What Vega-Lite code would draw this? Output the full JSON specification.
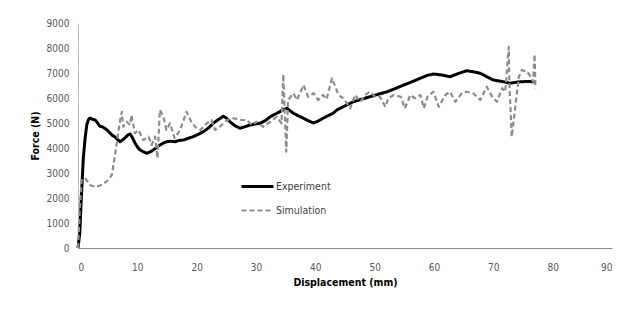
{
  "$schema": "https://vega.github.io/schema/vega-lite/v6.json",
  "width": 534,
  "height": 225,
  "autosize": "none",
  "padding": {"left": 78, "top": 23, "right": 5, "bottom": 63},
  "background": "white",
  "config": {
    "view": {"stroke": null},
    "font": "'DejaVu Sans Condensed', 'Liberation Sans', sans-serif"
  },
  "data": {
    "values": [
      {"s":"Experiment","d":0,"f":0},{"s":"Experiment","d":0.3,"f":600},{"s":"Experiment","d":0.6,"f":2200},{"s":"Experiment","d":0.9,"f":3600},{"s":"Experiment","d":1.2,"f":4400},{"s":"Experiment","d":1.5,"f":4950},{"s":"Experiment","d":1.8,"f":5150},{"s":"Experiment","d":2.0,"f":5200},{"s":"Experiment","d":2.4,"f":5150},{"s":"Experiment","d":2.9,"f":5120},{"s":"Experiment","d":3.3,"f":5000},{"s":"Experiment","d":3.7,"f":4870},{"s":"Experiment","d":4.1,"f":4850},{"s":"Experiment","d":4.5,"f":4790},{"s":"Experiment","d":5.0,"f":4700},{"s":"Experiment","d":5.4,"f":4600},{"s":"Experiment","d":5.8,"f":4500},{"s":"Experiment","d":6.2,"f":4450},{"s":"Experiment","d":6.7,"f":4330},{"s":"Experiment","d":7.1,"f":4250},{"s":"Experiment","d":7.5,"f":4320},{"s":"Experiment","d":7.9,"f":4400},{"s":"Experiment","d":8.4,"f":4520},{"s":"Experiment","d":8.8,"f":4560},{"s":"Experiment","d":9.2,"f":4400},{"s":"Experiment","d":9.6,"f":4200},{"s":"Experiment","d":10.0,"f":4050},{"s":"Experiment","d":10.4,"f":3930},{"s":"Experiment","d":11.0,"f":3850},{"s":"Experiment","d":11.6,"f":3790},{"s":"Experiment","d":12.2,"f":3850},{"s":"Experiment","d":12.7,"f":3920},{"s":"Experiment","d":13.3,"f":4030},{"s":"Experiment","d":13.8,"f":4120},{"s":"Experiment","d":14.4,"f":4200},{"s":"Experiment","d":14.9,"f":4250},{"s":"Experiment","d":15.6,"f":4270},{"s":"Experiment","d":16.3,"f":4250},{"s":"Experiment","d":17.0,"f":4300},{"s":"Experiment","d":17.8,"f":4320},{"s":"Experiment","d":18.6,"f":4390},{"s":"Experiment","d":19.4,"f":4450},{"s":"Experiment","d":20.3,"f":4550},{"s":"Experiment","d":21.1,"f":4650},{"s":"Experiment","d":22.0,"f":4800},{"s":"Experiment","d":22.8,"f":4990},{"s":"Experiment","d":23.6,"f":5130},{"s":"Experiment","d":24.5,"f":5270},{"s":"Experiment","d":25.0,"f":5200},{"s":"Experiment","d":25.6,"f":5050},{"s":"Experiment","d":26.4,"f":4900},{"s":"Experiment","d":27.3,"f":4790},{"s":"Experiment","d":28.1,"f":4850},{"s":"Experiment","d":29.0,"f":4920},{"s":"Experiment","d":29.9,"f":4960},{"s":"Experiment","d":30.7,"f":4990},{"s":"Experiment","d":31.6,"f":5100},{"s":"Experiment","d":32.4,"f":5250},{"s":"Experiment","d":33.2,"f":5350},{"s":"Experiment","d":34.0,"f":5450},{"s":"Experiment","d":34.6,"f":5530},{"s":"Experiment","d":35.2,"f":5590},{"s":"Experiment","d":35.8,"f":5480},{"s":"Experiment","d":36.3,"f":5390},{"s":"Experiment","d":37.2,"f":5280},{"s":"Experiment","d":38.0,"f":5190},{"s":"Experiment","d":38.9,"f":5080},{"s":"Experiment","d":39.7,"f":5000},{"s":"Experiment","d":40.5,"f":5080},{"s":"Experiment","d":41.3,"f":5190},{"s":"Experiment","d":42.2,"f":5300},{"s":"Experiment","d":43.0,"f":5390},{"s":"Experiment","d":43.6,"f":5520},{"s":"Experiment","d":44.2,"f":5590},{"s":"Experiment","d":45.3,"f":5720},{"s":"Experiment","d":46.4,"f":5850},{"s":"Experiment","d":47.8,"f":5950},{"s":"Experiment","d":49.2,"f":6050},{"s":"Experiment","d":50.6,"f":6150},{"s":"Experiment","d":52.1,"f":6250},{"s":"Experiment","d":53.5,"f":6380},{"s":"Experiment","d":54.9,"f":6520},{"s":"Experiment","d":56.3,"f":6650},{"s":"Experiment","d":57.7,"f":6790},{"s":"Experiment","d":58.8,"f":6900},{"s":"Experiment","d":59.9,"f":6960},{"s":"Experiment","d":61.3,"f":6920},{"s":"Experiment","d":62.7,"f":6850},{"s":"Experiment","d":64.1,"f":6980},{"s":"Experiment","d":65.5,"f":7090},{"s":"Experiment","d":66.6,"f":7050},{"s":"Experiment","d":67.8,"f":6990},{"s":"Experiment","d":68.9,"f":6850},{"s":"Experiment","d":70.0,"f":6720},{"s":"Experiment","d":71.7,"f":6650},{"s":"Experiment","d":72.8,"f":6590},{"s":"Experiment","d":73.6,"f":6620},{"s":"Experiment","d":74.5,"f":6650},{"s":"Experiment","d":75.8,"f":6660},{"s":"Experiment","d":77.1,"f":6650},
      {"s":"Simulation","d":0,"f":0},{"s":"Simulation","d":0.3,"f":1500},{"s":"Simulation","d":0.6,"f":2700},{"s":"Simulation","d":1.2,"f":2800},{"s":"Simulation","d":2.0,"f":2520},{"s":"Simulation","d":2.9,"f":2450},{"s":"Simulation","d":4.0,"f":2520},{"s":"Simulation","d":5.1,"f":2720},{"s":"Simulation","d":5.7,"f":2920},{"s":"Simulation","d":6.2,"f":3650},{"s":"Simulation","d":6.6,"f":4320},{"s":"Simulation","d":7.1,"f":5120},{"s":"Simulation","d":7.4,"f":5450},{"s":"Simulation","d":7.6,"f":4850},{"s":"Simulation","d":8.2,"f":5050},{"s":"Simulation","d":8.8,"f":4920},{"s":"Simulation","d":9.0,"f":5320},{"s":"Simulation","d":9.6,"f":4590},{"s":"Simulation","d":10.2,"f":4720},{"s":"Simulation","d":11.0,"f":4320},{"s":"Simulation","d":11.9,"f":4450},{"s":"Simulation","d":12.4,"f":4120},{"s":"Simulation","d":13.0,"f":4450},{"s":"Simulation","d":13.4,"f":3590},{"s":"Simulation","d":13.8,"f":5520},{"s":"Simulation","d":14.4,"f":5250},{"s":"Simulation","d":14.9,"f":4720},{"s":"Simulation","d":15.5,"f":4990},{"s":"Simulation","d":16.3,"f":4390},{"s":"Simulation","d":17.2,"f":4720},{"s":"Simulation","d":18.3,"f":5450},{"s":"Simulation","d":19.2,"f":4990},{"s":"Simulation","d":20.0,"f":4790},{"s":"Simulation","d":20.6,"f":4720},{"s":"Simulation","d":21.7,"f":4990},{"s":"Simulation","d":22.5,"f":5120},{"s":"Simulation","d":23.1,"f":4720},{"s":"Simulation","d":23.9,"f":4850},{"s":"Simulation","d":25.1,"f":5120},{"s":"Simulation","d":26.2,"f":5190},{"s":"Simulation","d":27.6,"f":5120},{"s":"Simulation","d":28.4,"f":5120},{"s":"Simulation","d":29.3,"f":4920},{"s":"Simulation","d":30.1,"f":5050},{"s":"Simulation","d":31.2,"f":4850},{"s":"Simulation","d":32.4,"f":5050},{"s":"Simulation","d":33.5,"f":5250},{"s":"Simulation","d":34.3,"f":4990},{"s":"Simulation","d":34.6,"f":6950},{"s":"Simulation","d":35.1,"f":3850},{"s":"Simulation","d":35.4,"f":5920},{"s":"Simulation","d":36.3,"f":6190},{"s":"Simulation","d":36.9,"f":5920},{"s":"Simulation","d":38.0,"f":6520},{"s":"Simulation","d":38.8,"f":6050},{"s":"Simulation","d":39.7,"f":6190},{"s":"Simulation","d":40.5,"f":5920},{"s":"Simulation","d":41.3,"f":6120},{"s":"Simulation","d":41.9,"f":5950},{"s":"Simulation","d":42.8,"f":6790},{"s":"Simulation","d":43.9,"f":6120},{"s":"Simulation","d":44.7,"f":5990},{"s":"Simulation","d":45.9,"f":5590},{"s":"Simulation","d":46.7,"f":6120},{"s":"Simulation","d":47.6,"f":5850},{"s":"Simulation","d":48.4,"f":6120},{"s":"Simulation","d":49.2,"f":6250},{"s":"Simulation","d":50.1,"f":6050},{"s":"Simulation","d":50.9,"f":6050},{"s":"Simulation","d":51.8,"f":5650},{"s":"Simulation","d":52.3,"f":5990},{"s":"Simulation","d":53.2,"f":6120},{"s":"Simulation","d":54.4,"f":6050},{"s":"Simulation","d":55.1,"f":5590},{"s":"Simulation","d":56.0,"f":6120},{"s":"Simulation","d":56.8,"f":5990},{"s":"Simulation","d":57.7,"f":6120},{"s":"Simulation","d":58.3,"f":5590},{"s":"Simulation","d":58.9,"f":6050},{"s":"Simulation","d":59.9,"f":6250},{"s":"Simulation","d":60.8,"f":5650},{"s":"Simulation","d":61.9,"f":6120},{"s":"Simulation","d":62.7,"f":6250},{"s":"Simulation","d":63.6,"f":5850},{"s":"Simulation","d":64.7,"f":6190},{"s":"Simulation","d":65.5,"f":6250},{"s":"Simulation","d":66.6,"f":6190},{"s":"Simulation","d":67.8,"f":5920},{"s":"Simulation","d":68.9,"f":6450},{"s":"Simulation","d":69.8,"f":6050},{"s":"Simulation","d":70.6,"f":5850},{"s":"Simulation","d":71.5,"f":6390},{"s":"Simulation","d":72.0,"f":6250},{"s":"Simulation","d":72.6,"f":8050},{"s":"Simulation","d":72.7,"f":6590},{"s":"Simulation","d":73.1,"f":4450},{"s":"Simulation","d":73.7,"f":5650},{"s":"Simulation","d":74.3,"f":6850},{"s":"Simulation","d":74.8,"f":7120},{"s":"Simulation","d":75.7,"f":7050},{"s":"Simulation","d":76.3,"f":6850},{"s":"Simulation","d":76.7,"f":6650},{"s":"Simulation","d":76.95,"f":7750},{"s":"Simulation","d":77.1,"f":6390}
    ]
  },
  "mark": {"type": "line", "interpolate": "linear", "strokeJoin": "round"},
  "encoding": {
    "x": {
      "field": "d", "type": "quantitative",
      "scale": {"domain": [0, 90], "nice": false, "zero": true},
      "axis": {
        "title": "Displacement (mm)", "values": [0,10,20,30,40,50,60,70,80,90], "format": "d",
        "grid": false, "ticks": false, "domainColor": "#8c8c8c", "domainWidth": 1,
        "labelFontSize": 10, "labelColor": "#595959", "labelPadding": 14,
        "titleFontSize": 10.5, "titleFontWeight": "bold", "titleColor": "#000000", "titlePadding": 5
      }
    },
    "y": {
      "field": "f", "type": "quantitative",
      "scale": {"domain": [0, 9000], "nice": false},
      "axis": {
        "title": "Force (N)", "values": [0,1000,2000,3000,4000,5000,6000,7000,8000,9000], "format": "d",
        "grid": false, "ticks": false, "domainColor": "#bfbfbf", "domainWidth": 1,
        "labelFontSize": 10, "labelColor": "#595959", "labelPadding": 9,
        "titleFontSize": 10.5, "titleFontWeight": "bold", "titleColor": "#000000", "titlePadding": 6
      }
    },
    "color": {
      "field": "s", "type": "nominal",
      "scale": {"domain": ["Experiment", "Simulation"], "range": ["#000000", "#8c8c8c"]},
      "legend": {
        "title": null, "orient": "none", "legendX": 162, "legendY": 146,
        "symbolType": "stroke", "symbolSize": 1024, "symbolStrokeWidth": 2.5,
        "labelFontSize": 10.5, "labelColor": "#404040",
        "rowPadding": -6, "labelOffset": 1
      }
    },
    "strokeDash": {
      "field": "s", "type": "nominal",
      "scale": {"domain": ["Experiment", "Simulation"], "range": [[1, 0], [5, 3]]},
      "legend": {
        "title": null, "orient": "none", "legendX": 162, "legendY": 146,
        "symbolType": "stroke", "symbolSize": 1024, "symbolStrokeWidth": 2.5,
        "labelFontSize": 10.5, "labelColor": "#404040",
        "rowPadding": -6, "labelOffset": 1
      }
    },
    "strokeWidth": {
      "field": "s", "type": "nominal",
      "scale": {"domain": ["Experiment", "Simulation"], "range": [3, 2.2]},
      "legend": null
    }
  }
}
